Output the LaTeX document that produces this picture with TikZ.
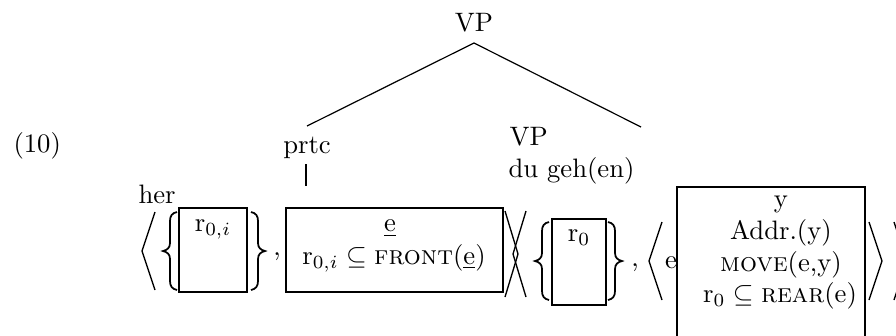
\documentclass[tikz,border=0pt]{standalone}
\begin{document}
\begin{tikzpicture}[x=0.375pt,y=-0.375pt,
  txt/.style={inner sep=0pt,anchor=base},
  semframe/.style={draw,line width=0.8pt,inner sep=0pt},
  branch/.style={line width=0.45pt},
  delim/.style={line width=0.5pt},
  curly/.style={line width=0.65pt},
  pics/angleL/.style={code={\draw[delim] (13,-#1) -- (0,0) -- (13,#1);}},
  pics/braceL/.style={code={\draw[curly] (14,-39) .. controls (9,-38) and (7,-35) .. (7,-30) -- (7,-8)
      .. controls (7,-3) and (4,-1) .. (0,0) .. controls (4,1) and (7,3) .. (7,8) -- (7,30)
      .. controls (7,35) and (9,38) .. (14,39);}},
]
\useasboundingbox (0,0) rectangle (896,335);

% example number
\node[txt,anchor=base west] (ex) at (13,152) {(10)};

% tree
\node[txt] (vptop) at (474,31) {VP};
\coordinate (apex) at (474,43);
\coordinate (lleaf) at (307,126);
\coordinate (rleaf) at (641,127);
\draw[branch] (lleaf) -- (apex) -- (rleaf);
\node[txt] (prtc) at (307,153) {prtc};
\coordinate (barTop) at (306,164);
\coordinate (barBot) at (306,186);
\draw[line width=0.6pt] (barTop) -- (barBot);
\node[txt,anchor=base west] (vplow) at (509,145) {VP};
\node[txt,anchor=base west] (verb) at (508,177) {du geh(en)};
\node[txt,anchor=base west] (her) at (138,203) {her};

% first pair
\pic at (142,251) {angleL=39};
\pic at (163,251) {braceL};
\node[semframe,minimum width=25.4pt,minimum height=31.5pt] (b1) at (213,250) {};
\node[txt] (r1) at (213,231) {$\mathrm{r}_{0,i}$};
\pic[xscale=-1] at (265,251) {braceL};
\node[txt] (c1) at (277,255) {,};
\node[semframe,minimum width=81.4pt,minimum height=31.5pt] (b2) at (394.5,250) {};
\node[txt] (e1) at (390,231) {\underline{e}};
\node[txt] (front) at (394,264) {$\mathrm{r}_{0,i}\subseteq\textsc{front}(\underline{\mathrm{e}})$};

% crossed brackets
\pic[xscale=-1] at (518,254) {angleL=43};
\pic at (513,254) {angleL=43};

% second pair
\pic at (535,261) {braceL};
\node[semframe,minimum width=20.25pt,minimum height=32.25pt] (b3) at (579,262) {};
\node[txt] (r0) at (579,241) {$\mathrm{r}_0$};
\pic[xscale=-1] at (622,261) {braceL};
\node[txt] (c2) at (635,266) {,};
\pic at (649,261) {angleL=39};
\node[txt] (e2) at (671,268) {e};
\node[semframe,minimum width=70.5pt,minimum height=61.1pt] (b4) at (771,268.5) {};
\node[txt] (y) at (781,207) {y};
\node[txt] (addr) at (781,239) {Addr.(y)};
\node[txt] (move) at (781,271) {\textsc{move}(e,y)};
\node[txt] (rear) at (780,302) {$\mathrm{r}_0\subseteq\textsc{rear}(\mathrm{e})$};
\pic[xscale=-1] at (882,261) {angleL=39};
\pic[xscale=-1] at (907,261) {angleL=39};
\end{tikzpicture}
\end{document}
